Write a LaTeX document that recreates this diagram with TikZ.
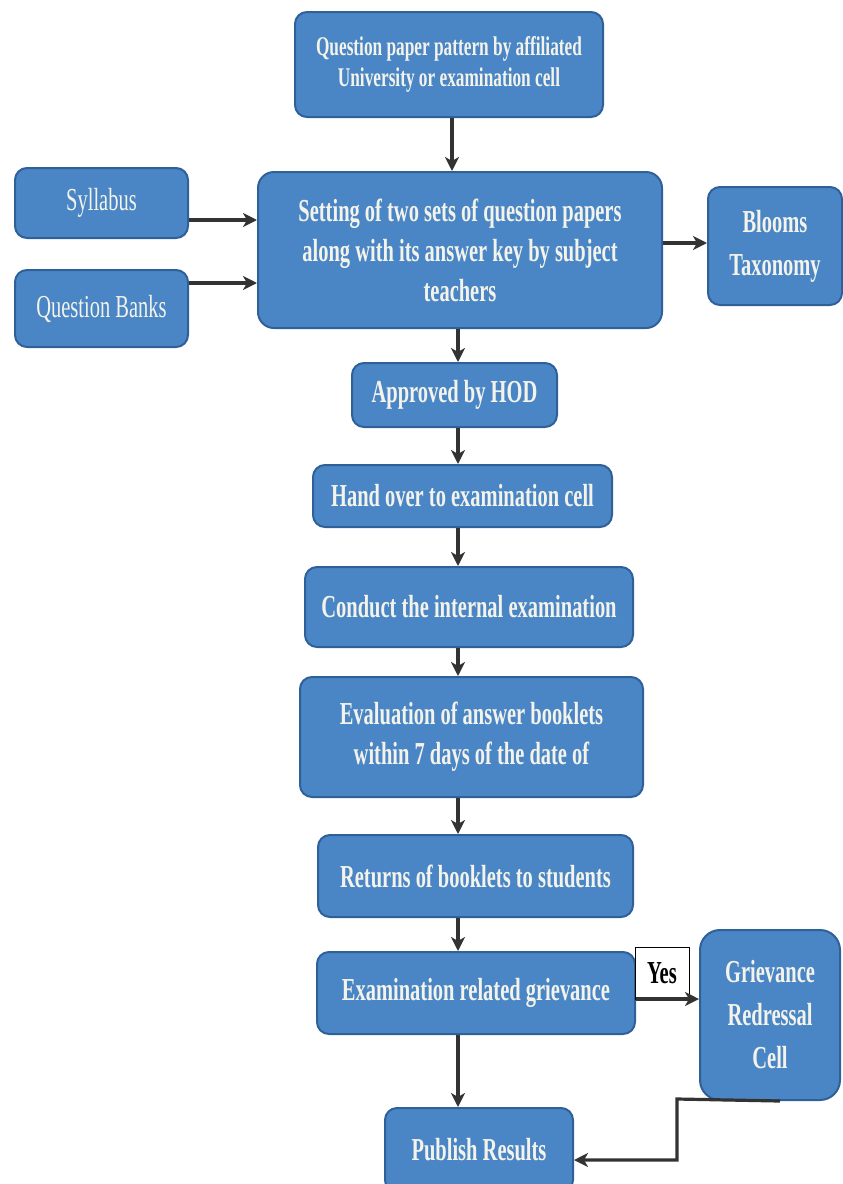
\documentclass[tikz,border=0pt]{standalone}
\usepackage{fontspec}
\setmainfont{Liberation Serif}[FakeStretch=0.64]
\usetikzlibrary{arrows.meta}
\definecolor{boxfill}{HTML}{4A86C6}
\definecolor{boxline}{HTML}{2F6098}
\definecolor{boxtext}{HTML}{F3F3EA}
\definecolor{arrowcol}{HTML}{333333}
\tikzset{
  flowbox/.style={draw=boxline, line width=2pt, fill=boxfill, rounded corners=12pt,
    text=boxtext, align=center, inner sep=0pt,
    font=\fontsize{32}{40}\selectfont\bfseries},
  plainbox/.style={flowbox, font=\fontsize{32}{40}\selectfont},
  smallbox/.style={flowbox, font=\fontsize{27}{31}\selectfont\bfseries},
  tallbox/.style={flowbox, font=\fontsize{32}{43}\selectfont\bfseries},
  flowarrow/.style={draw=arrowcol, line width=3.2pt,
    -{Stealth[length=14pt,width=14pt,inset=4pt]}},
  yesbox/.style={draw=black, line width=1pt, fill=white, inner sep=0pt,
    text=black, font=\fontsize{32}{40}\selectfont\bfseries}
}
\begin{document}
\begin{tikzpicture}[x=1pt,y=-1pt]
\useasboundingbox (0,0) rectangle (843,1184);
\clip (0,0) rectangle (843,1184);
\fill[white] (0,0) rectangle (843,1184);

% boxes
\node[smallbox, minimum width=308pt, minimum height=105pt] (qpp) at (449,64.5)
  {Question paper pattern by affiliated\\University or examination cell};
\node[plainbox, minimum width=173pt, minimum height=70pt] (syl) at (101.5,203) {Syllabus};
\node[plainbox, minimum width=173pt, minimum height=77pt] (qb) at (101.5,308.5) {Question Banks};
\node[flowbox, rounded corners=16pt, minimum width=404pt, minimum height=156pt] (set) at (460,250)
  {Setting of two sets of question papers\\along with its answer key by subject\\teachers};
\node[tallbox, minimum width=134pt, minimum height=118pt] (blooms) at (775,246)
  {Blooms\\Taxonomy};
\node[flowbox, minimum width=205pt, minimum height=64pt] (hod) at (454.5,395) {Approved by HOD};
\node[flowbox, minimum width=299pt, minimum height=62pt] (hand) at (462.5,496) {Hand over to examination cell};
\node[flowbox, minimum width=328pt, minimum height=80pt] (conduct) at (469,607) {Conduct the internal examination};
\node[flowbox, minimum width=343pt, minimum height=120pt] (eval) at (471.5,737)
  {Evaluation of answer booklets\\within 7 days of the date of};
\node[flowbox, minimum width=315pt, minimum height=82pt] (returns) at (475.5,876) {Returns of booklets to students};
\node[flowbox, minimum width=318pt, minimum height=82pt] (exam) at (476,993) {Examination related grievance};
\node[tallbox, rounded corners=20pt, minimum width=140pt, minimum height=170pt] (griev) at (770,1015)
  {Grievance\\Redressal\\Cell};
\node[flowbox, minimum width=188pt, minimum height=84pt] (publish) at (479,1150) {Publish Results};
\node[yesbox, minimum width=54pt, minimum height=52pt] (yes) at (662,973) {Yes};

% helper coordinates
\coordinate (spineA) at (452,0);
\coordinate (spineB) at (458,0);
\coordinate (rowSyl) at (0,220);
\coordinate (rowQb) at (0,283);
\coordinate (rowBl) at (0,243);
\coordinate (rowYes) at (0,999);
\coordinate (gStart) at (780,1099);
\coordinate (gBend) at (677,1160);

% connectors
\draw[flowarrow] (qpp.south -| spineA) -- (set.north -| spineA);
\draw[flowarrow] (syl.east |- rowSyl) -- (set.west |- rowSyl);
\draw[flowarrow] (qb.east |- rowQb) -- (set.west |- rowQb);
\draw[flowarrow] (set.east |- rowBl) -- (blooms.west |- rowBl);
\draw[flowarrow] (set.south -| spineB) -- (hod.north -| spineB);
\draw[flowarrow] (hod.south -| spineB) -- (hand.north -| spineB);
\draw[flowarrow] (hand.south -| spineB) -- (conduct.north -| spineB);
\draw[flowarrow] (conduct.south -| spineB) -- (eval.north -| spineB);
\draw[flowarrow] (eval.south -| spineB) -- (returns.north -| spineB);
\draw[flowarrow] (returns.south -| spineB) -- (exam.north -| spineB);
\draw[flowarrow] (exam.south -| spineB) -- (publish.north -| spineB);
\draw[flowarrow] (exam.east |- rowYes) -- (griev.west |- rowYes);
\draw[flowarrow] (griev.south -| gStart) -- (gBend |- gStart) -- (gBend) -- (publish.east |- gBend);
\end{tikzpicture}
\end{document}
